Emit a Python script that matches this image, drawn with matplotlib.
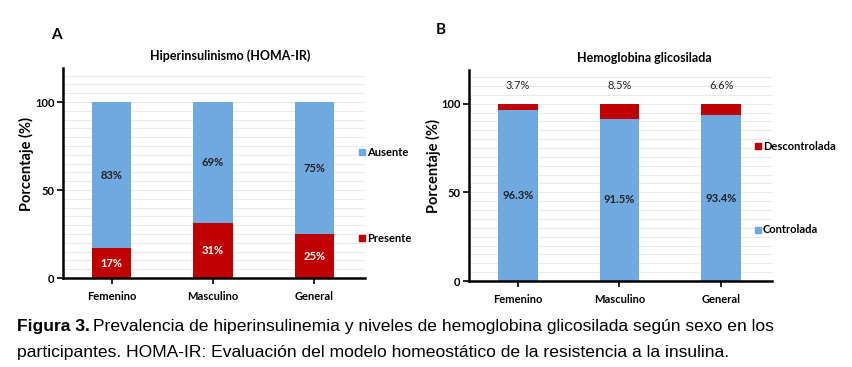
import numpy as np
import matplotlib.pyplot as plt

plt.rcParams['font.family'] = ['Lato', 'DejaVu Sans']

categorias = ["Femenino", "Masculino", "General"]

# Panel A: hiperinsulinismo (HOMA-IR)
presente = [17, 31, 25]
ausente = [83, 69, 75]

# Panel B: hemoglobina glicosilada
controlada = [96.3, 91.5, 93.4]
descontrolada = [3.7, 8.5, 6.6]

azul = "#70A8E0"
rojo = "#C00000"

fig = plt.figure(figsize=(8.52, 3.67), dpi=100)
axA = fig.add_axes([0.0739, 0.2425, 0.3545, 0.572])
axB = fig.add_axes([0.5505, 0.2343, 0.3556, 0.575])

x = np.arange(len(categorias))
w = 0.39


def estilo(ax, ymax, xlab):
    ax.set_xlim(-0.48, 2.5)
    ax.set_ylim(0, ymax)
    ax.set_yticks([0, 50, 100])
    ax.set_yticks(np.arange(0, ymax, 5), minor=True)
    ax.grid(True, which="both", axis="y", color="#EAEAEA", lw=0.8)
    ax.set_axisbelow(True)
    ax.tick_params(axis="y", which="minor", length=0)
    ax.tick_params(axis="both", which="major", length=4, width=1.2, labelsize=8, pad=2)
    ax.tick_params(axis="x", pad=5)
    for s in ["top", "right"]:
        ax.spines[s].set_visible(False)
    for s in ["left", "bottom"]:
        ax.spines[s].set_linewidth(1.8)
    ax.set_xticks(x)
    ax.set_xticklabels(categorias, fontweight="bold")
    for t in ax.get_yticklabels():
        t.set_fontweight("bold")
    ax.set_ylabel("Porcentaje (%)", fontsize=10.5, fontweight="bold")
    ax.yaxis.set_label_coords(xlab, 0.543)


# A
axA.bar(x, presente, w, color=rojo, label="Presente")
axA.bar(x, ausente, w, bottom=presente, color=azul, label="Ausente")
estilo(axA, 119.3, -0.096)
for i in range(3):
    axA.text(x[i], presente[i] / 2, f"{presente[i]}%", ha="center", va="center",
             color="white", fontsize=8, fontweight="bold")
    axA.text(x[i], presente[i] + ausente[i] / 2, f"{ausente[i]}%", ha="center",
             va="center", color="#222222", fontsize=8, fontweight="bold")
axA.set_title("Hiperinsulinismo (HOMA-IR)", fontsize=9, fontweight="bold", pad=6, x=0.553)
fig.text(0.060, 0.905, "A", fontsize=11, fontweight="bold", ha="left", va="center")
axA.scatter([2.47], [71.6], marker="s", s=22, color=azul, clip_on=False)
axA.text(2.52, 71.6, "Ausente", fontsize=8, fontweight="bold", va="center")
axA.scatter([2.47], [22.7], marker="s", s=22, color=rojo, clip_on=False)
axA.text(2.52, 22.7, "Presente", fontsize=8, fontweight="bold", va="center")

# B
axB.bar(x, controlada, w, color=azul, label="Controlada")
axB.bar(x, descontrolada, w, bottom=controlada, color=rojo, label="Descontrolada")
estilo(axB, 119, -0.092)
for i in range(3):
    axB.text(x[i], controlada[i] / 2, f"{controlada[i]}%", ha="center", va="center",
             color="#222222", fontsize=8, fontweight="bold")
    axB.text(x[i], 110.5, f"{descontrolada[i]}%", ha="center", va="center",
             color="#222222", fontsize=8)
axB.set_title("Hemoglobina glicosilada", fontsize=9, fontweight="bold", pad=6, x=0.578)
fig.text(0.511, 0.918, "B", fontsize=11, fontweight="bold", ha="left", va="center")
axB.scatter([2.36], [76], marker="s", s=22, color=rojo, clip_on=False)
axB.text(2.41, 76, "Descontrolada", fontsize=8, fontweight="bold", va="center")
axB.scatter([2.36], [29], marker="s", s=22, color=azul, clip_on=False)
axB.text(2.41, 29, "Controlada", fontsize=8, fontweight="bold", va="center")

# pie de figura
cap = dict(fontsize=12.6, family=["Liberation Sans", "DejaVu Sans"],
           va="center", ha="left")
t1 = fig.text(0.020, 1 - 327 / 367, "Figura 3.", fontweight="bold", **cap)
fig.canvas.draw()
bb = t1.get_window_extent()
x2 = bb.x1 / fig.bbox.width + 0.004
fig.text(x2, 1 - 327 / 367,
         "Prevalencia de hiperinsulinemia y niveles de hemoglobina glicosilada según sexo en los",
         **cap)
fig.text(0.020, 1 - 352 / 367,
         "participantes. HOMA-IR: Evaluación del modelo homeostático de la resistencia a la insulina.",
         **cap)

fig.savefig("out.png", dpi=100)
